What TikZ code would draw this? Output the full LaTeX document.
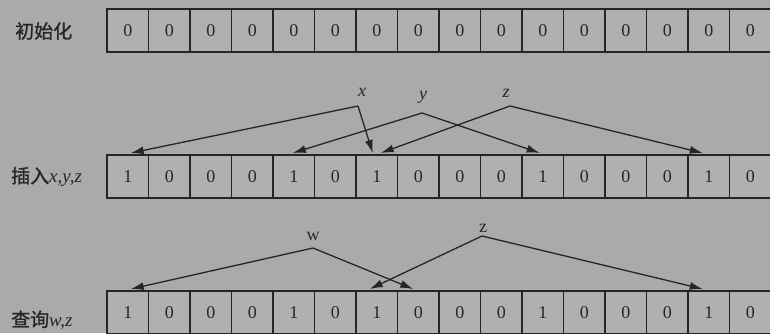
\documentclass[tikz,border=0pt]{standalone}
\usepackage{fontspec}
\setmainfont{Liberation Serif}
\newfontfamily\cjk[FakeBold=1.2]{Noto Sans CJK SC}
\usetikzlibrary{arrows.meta}
\definecolor{bg}{RGB}{170,170,168}
\definecolor{cellbg}{RGB}{176,176,174}
\definecolor{ink}{RGB}{38,38,38}
\begin{document}
\begin{tikzpicture}[x=1pt,y=-1pt,
  cell/.style={draw=ink, line width=1.3pt, fill=cellbg, minimum width=41.5pt,
    minimum height=43pt, inner sep=0pt, outer sep=0pt, anchor=north west,
    font=\fontsize{18}{18}\selectfont, text=ink},
  rowlabel/.style={anchor=west, inner sep=0pt, text=ink, font=\fontsize{19}{19}\selectfont},
  hashlabel/.style={inner sep=0pt, text=ink, font=\fontsize{18}{18}\selectfont},
  arr/.style={draw=ink, line width=1.3pt, -{Latex[length=13pt,width=8pt]}}]
\useasboundingbox (0,0) rectangle (770,333);
\clip (0,0) rectangle (770,333);
\fill[bg] (0,0) rectangle (770,333);
% row labels
\node[rowlabel] (l1) at (15,31) {\cjk 初始化};
\node[rowlabel] (l2) at (11,177) {{\cjk 插入}\textit{x,y,z}};
\node[rowlabel] (l3) at (11,320) {{\cjk 查询}\textit{w,z}};
% rows of cells
\foreach \v [count=\i] in {0,0,0,0,0,0,0,0,0,0,0,0,0,0,0,0}
  \node[cell] (r1c\i) at ({107+(\i-1)*41.5},9) {\v};
\foreach \v [count=\i] in {1,0,0,0,1,0,1,0,0,0,1,0,0,0,1,0}
  \node[cell] (r2c\i) at ({107+(\i-1)*41.5},155) {\v};
\foreach \v [count=\i] in {1,0,0,0,1,0,1,0,0,0,1,0,0,0,1,0}
  \node[cell] (r3c\i) at ({107+(\i-1)*41.5},291) {\v};
% insert x,y,z
\node[hashlabel] (xl) at (362,92) {\textit{x}};
\node[hashlabel] (yl) at (423,97) {\textit{y}};
\node[hashlabel] (zl) at (506,93) {\textit{z}};
\coordinate (xa) at (358,106);
\coordinate (ya) at (422,113);
\coordinate (za) at (510,106);
\draw[arr] (xa) -- ([xshift=3pt,yshift=2pt]r2c1.north);
\draw[arr] (xa) -- ([xshift=-4pt,yshift=2pt]r2c7.north);
\draw[arr] (ya) -- ([xshift=-1pt,yshift=2pt]r2c5.north);
\draw[arr] (ya) -- ([xshift=-3pt,yshift=2pt]r2c11.north);
\draw[arr] (za) -- ([xshift=4pt,yshift=2pt]r2c7.north);
\draw[arr] (za) -- ([xshift=-6pt,yshift=2pt]r2c15.north);
% query w,z
\node[hashlabel] (wl) at (313,236) {w};
\node[hashlabel] (zl2) at (483,228) {z};
\coordinate (wa) at (313,248);
\coordinate (za2) at (482,236);
\draw[arr] (wa) -- ([xshift=3pt,yshift=2pt]r3c1.north);
\draw[arr] (wa) -- ([xshift=-5pt,yshift=2pt]r3c8.north);
\draw[arr] (za2) -- ([xshift=-7pt,yshift=2pt]r3c7.north);
\draw[arr] (za2) -- ([xshift=-6pt,yshift=2pt]r3c15.north);
\end{tikzpicture}
\end{document}
